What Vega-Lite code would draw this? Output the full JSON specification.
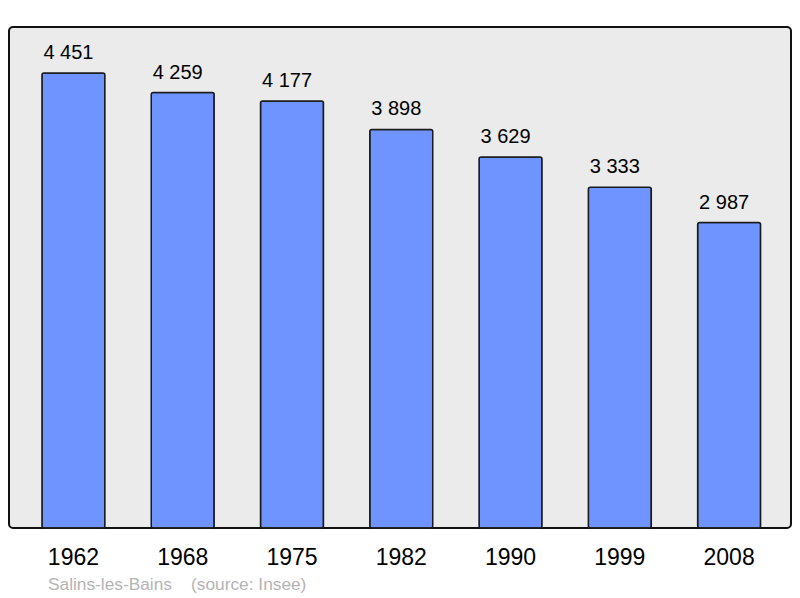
{
  "$schema": "https://vega.github.io/schema/vega-lite/v6.json",
  "width": 782,
  "height": 501,
  "autosize": "none",
  "padding": {"left": 9, "top": 27, "right": 9, "bottom": 70},
  "background": "white",
  "config": {
    "font": "Liberation Sans",
    "view": {"fill": "#ebebeb", "stroke": "#111111", "strokeWidth": 2, "cornerRadius": 4}
  },
  "title": {
    "text": "Salins-les-Bains\u00a0\u00a0\u00a0\u00a0(source: Insee)",
    "orient": "bottom",
    "anchor": "start",
    "dx": 39,
    "offset": 7,
    "fontSize": 17.3,
    "fontWeight": "normal",
    "color": "#b4b4b4"
  },
  "data": {
    "values": [
      {"year": "1962", "pop": 4451, "label": "4 451"},
      {"year": "1968", "pop": 4259, "label": "4 259"},
      {"year": "1975", "pop": 4177, "label": "4 177"},
      {"year": "1982", "pop": 3898, "label": "3 898"},
      {"year": "1990", "pop": 3629, "label": "3 629"},
      {"year": "1999", "pop": 3333, "label": "3 333"},
      {"year": "2008", "pop": 2987, "label": "2 987"}
    ]
  },
  "encoding": {
    "x": {
      "field": "year",
      "type": "ordinal",
      "scale": {"paddingInner": 0.424, "paddingOuter": 0.29, "align": 0.52},
      "axis": {"title": null, "labelAngle": 0, "labelFontSize": 23, "labelColor": "#000000", "ticks": false, "domain": false, "labelPadding": 18}
    },
    "y": {
      "field": "pop",
      "type": "quantitative",
      "scale": {"domain": [0, 4900], "nice": false},
      "axis": null
    }
  },
  "layer": [
    {
      "mark": {"type": "bar", "color": "#7094ff", "stroke": "#1a1a1a", "strokeWidth": 1.5, "cornerRadius": 2}
    },
    {
      "mark": {"type": "text", "baseline": "alphabetic", "dy": -14, "dx": -5, "fontSize": 20, "color": "#000000"},
      "encoding": {"text": {"field": "label"}}
    }
  ]
}
